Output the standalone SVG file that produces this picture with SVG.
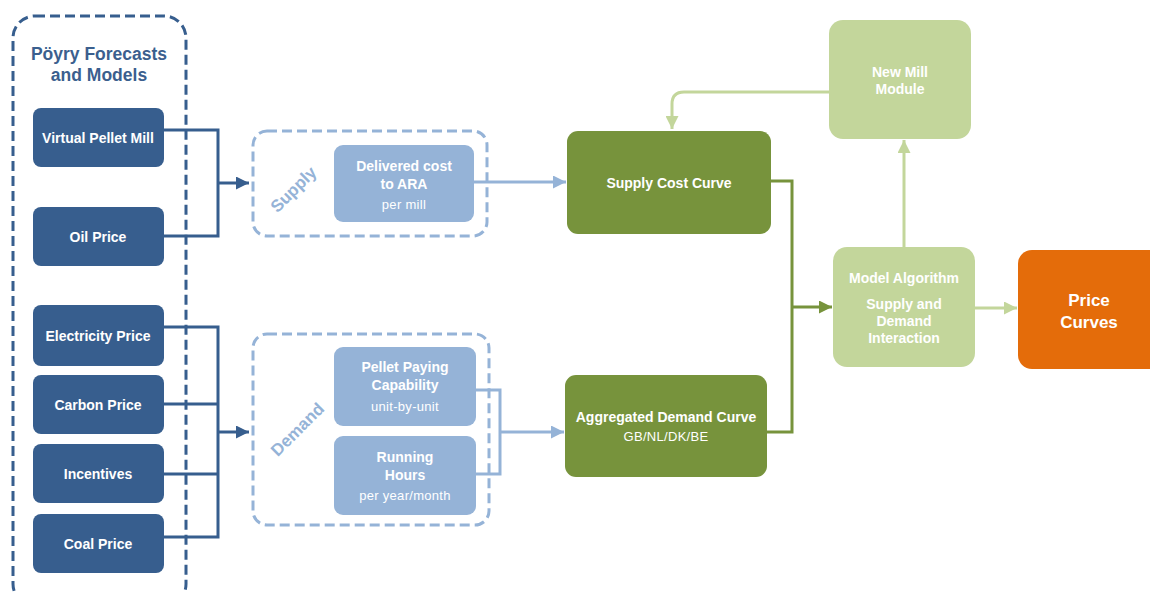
<svg xmlns="http://www.w3.org/2000/svg" width="1150" height="592" viewBox="0 0 1150 592">
<style>
text{font-family:"Liberation Sans",Arial,sans-serif;text-anchor:middle;fill:#fff;font-weight:bold}
.t14{font-size:14px}
.sm{font-size:13px;font-weight:normal;letter-spacing:0.3px}
.dk{fill:#375e8e}
.lb{fill:#95b3d7}
.gr{fill:#77933c}
.lg{fill:#c3d69b}
.or{fill:#e46c0a}
.c{fill:none;stroke-width:3}
</style>
<defs>
<marker id="ab" viewBox="0 0 10 10" refX="10" refY="5" markerWidth="13" markerHeight="13" markerUnits="userSpaceOnUse" orient="auto"><path d="M0,0L10,5L0,10z" fill="#375e8e"/></marker>
<marker id="al" viewBox="0 0 10 10" refX="10" refY="5" markerWidth="13" markerHeight="13" markerUnits="userSpaceOnUse" orient="auto"><path d="M0,0L10,5L0,10z" fill="#95b3d7"/></marker>
<marker id="ag" viewBox="0 0 10 10" refX="10" refY="5" markerWidth="13" markerHeight="13" markerUnits="userSpaceOnUse" orient="auto"><path d="M0,0L10,5L0,10z" fill="#77933c"/></marker>
<marker id="alg" viewBox="0 0 10 10" refX="10" refY="5" markerWidth="13" markerHeight="13" markerUnits="userSpaceOnUse" orient="auto"><path d="M0,0L10,5L0,10z" fill="#c3d69b"/></marker>
</defs>
<rect width="1150" height="592" fill="#fff"/>

<g id="poyry-group">
<rect x="13" y="16" width="173" height="590" rx="22" fill="none" stroke="#375e8e" stroke-width="3" stroke-dasharray="10 5"/>
<text x="99" y="60" style="font-size:17.5px;fill:#3b5f8e">Pöyry Forecasts</text>
<text x="99" y="81" style="font-size:17.5px;fill:#3b5f8e">and Models</text>
</g>

<g id="supply-group">
<rect x="253" y="131" width="234" height="105" rx="14" fill="none" stroke="#95b3d7" stroke-width="3" stroke-dasharray="10 5"/>
<text x="294" y="195" transform="rotate(-45 294 190)" style="font-size:17px;fill:#95b3d7">Supply</text>
</g>
<g id="demand-group">
<rect x="253" y="334" width="236" height="191" rx="14" fill="none" stroke="#95b3d7" stroke-width="3" stroke-dasharray="10 5"/>
<text x="298" y="435" transform="rotate(-45 298 430)" style="font-size:17px;fill:#95b3d7">Demand</text>
</g>

<g id="connectors">
<path class="c" stroke="#375e8e" d="M164,130H218V236H164"/>
<path class="c" stroke="#375e8e" d="M218,183H249" marker-end="url(#ab)"/>
<path class="c" stroke="#375e8e" d="M164,327H218V537H164M164,404H218M164,474H218"/>
<path class="c" stroke="#375e8e" d="M218,432H249" marker-end="url(#ab)"/>
<path class="c" stroke="#95b3d7" d="M474,182H566" marker-end="url(#al)"/>
<path class="c" stroke="#95b3d7" d="M476,390H500V474H476"/>
<path class="c" stroke="#95b3d7" d="M500,432H564" marker-end="url(#al)"/>
<path class="c" stroke="#77933c" d="M771,181H792V432H767"/>
<path class="c" stroke="#77933c" d="M792,307H832" marker-end="url(#ag)"/>
<path class="c" stroke="#c3d69b" d="M904,247V140" marker-end="url(#alg)"/>
<path class="c" stroke="#c3d69b" d="M829,92H684Q672,92 672,104V129" marker-end="url(#alg)"/>
<path class="c" stroke="#c3d69b" d="M975,308H1017" marker-end="url(#alg)"/>
</g>

<g id="virtual-pellet-mill"><rect class="dk" x="33" y="108" width="131" height="59" rx="8"/><text class="t14" x="98" y="143">Virtual Pellet Mill</text></g>
<g id="oil-price"><rect class="dk" x="33" y="207" width="131" height="59" rx="8"/><text class="t14" x="98" y="242">Oil Price</text></g>
<g id="electricity-price"><rect class="dk" x="33" y="305" width="131" height="61" rx="8"/><text class="t14" x="98" y="341">Electricity Price</text></g>
<g id="carbon-price"><rect class="dk" x="33" y="375" width="131" height="59" rx="8"/><text class="t14" x="98" y="410">Carbon Price</text></g>
<g id="incentives"><rect class="dk" x="33" y="444" width="131" height="59" rx="8"/><text class="t14" x="98" y="479">Incentives</text></g>
<g id="coal-price"><rect class="dk" x="33" y="514" width="131" height="59" rx="8"/><text class="t14" x="98" y="549">Coal Price</text></g>

<g id="delivered-cost"><rect class="lb" x="334" y="145" width="140" height="77" rx="9"/>
<text class="t14" x="404" y="171">Delivered cost</text><text class="t14" x="404" y="189">to ARA</text><text class="sm" x="404" y="209">per mill</text></g>
<g id="pellet-paying"><rect class="lb" x="334" y="347" width="142" height="79" rx="9"/>
<text class="t14" x="405" y="372">Pellet Paying</text><text class="t14" x="405" y="390">Capability</text><text class="sm" x="405" y="411">unit-by-unit</text></g>
<g id="running-hours"><rect class="lb" x="334" y="436" width="142" height="79" rx="9"/>
<text class="t14" x="405" y="462">Running</text><text class="t14" x="405" y="480">Hours</text><text class="sm" x="405" y="500">per year/month</text></g>

<g id="supply-cost-curve"><rect class="gr" x="567" y="131" width="204" height="103" rx="11"/><text class="t14" x="669" y="188">Supply Cost Curve</text></g>
<g id="aggregated-demand"><rect class="gr" x="565" y="375" width="202" height="102" rx="11"/>
<text class="t14" x="666" y="422">Aggregated Demand Curve</text><text class="sm" x="666" y="441">GB/NL/DK/BE</text></g>

<g id="new-mill"><rect class="lg" x="829" y="20" width="142" height="119" rx="14"/>
<text class="t14" x="900" y="77">New Mill</text><text class="t14" x="900" y="94">Module</text></g>
<g id="model-algorithm"><rect class="lg" x="833" y="247" width="142" height="120" rx="14"/>
<text class="t14" x="904" y="283">Model Algorithm</text><text class="t14" x="904" y="309">Supply and</text><text class="t14" x="904" y="326">Demand</text><text class="t14" x="904" y="343">Interaction</text></g>
<g id="price-curves"><rect class="or" x="1018" y="250" width="150" height="119" rx="14"/>
<text x="1089" y="306" style="font-size:17px">Price</text><text x="1089" y="328" style="font-size:17px">Curves</text></g>
</svg>
